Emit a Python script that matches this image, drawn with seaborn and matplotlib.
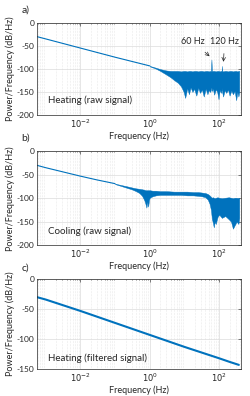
import numpy as np
import pandas as pd
import matplotlib
matplotlib.use("Agg")
import matplotlib.pyplot as plt
import seaborn as sns

# estilo general
sns.set_theme(style="whitegrid")
plt.rcParams['font.family'] = ['Lato', 'DejaVu Sans']
plt.rcParams['mathtext.fontset'] = 'dejavusans'

AZUL = '#0072BD'
GRIS = '#262626'

## ---------------------------
## datos
## ---------------------------

# a) calentamiento, senal cruda
heat_line_f = [5.6e-4, 1e-3, 1e-2, 1e-1, 1.0]
heat_line_db = [-29, -34, -54, -74, -93]

heat_band_f = [1.0, 1.5, 2.0, 3.0, 4.0, 5.0, 6.5, 8.0, 9.5, 10.5, 12, 13.5, 15, 17, 19,
               22, 25, 28, 32, 36, 41, 46, 50, 55, 58, 60, 62, 66, 72, 80, 88, 96,
               104, 112, 118, 120, 122, 130, 145, 160, 180, 200, 225, 250, 280, 310,
               335, 360, 380]
heat_band_hi = [-93, -97, -100, -103, -104, -104, -104, -105, -104, -104, -105, -104, -104,
                -105, -104, -104, -105, -104, -104, -105, -104, -104, -105, -104, -105,
                -79, -105, -104, -104, -105, -104, -104, -105, -104, -104, -93, -104,
                -105, -104, -104, -105, -104, -104, -105, -104, -104, -105, -104, -104]
heat_band_lo = [-94, -99, -104, -112, -118, -124, -130, -138, -150, -163, -142, -155, -140,
                -150, -143, -158, -141, -152, -145, -160, -143, -155, -146, -150, -145,
                -140, -148, -143, -156, -144, -150, -166, -145, -152, -146, -140, -150,
                -160, -146, -152, -145, -158, -147, -155, -148, -168, -150, -160, -150]

# b) enfriamiento, senal cruda
cool_line_f = [5.6e-4, 1e-3, 1e-2, 3e-2, 1e-1]
cool_line_db = [-30, -35, -53, -61, -69]

cool_band_f = [0.1, 0.15, 0.2, 0.3, 0.4, 0.5, 0.6, 0.7, 0.75, 0.8, 0.85, 0.9, 0.95, 1.0,
               1.2, 1.5, 2, 3, 5, 8, 12, 18, 25, 32, 40, 47, 53, 58, 62, 66, 70, 75, 80,
               90, 100, 120, 150, 190, 220, 250, 280, 320, 360, 380]
cool_band_hi = [-69, -72, -74, -77, -79, -80, -81, -82, -83, -83, -83, -83, -83, -83,
                -84, -84, -85, -85, -86, -86, -86, -87, -87, -88, -89, -91, -94, -97,
                -99, -98, -99, -100, -99, -98, -99, -100, -99, -98, -99, -100, -99, -99,
                -100, -99]
cool_band_lo = [-70, -74, -77, -81, -85, -89, -95, -105, -112, -120, -108, -118, -104, -99,
                -96, -94, -93, -93, -93, -93, -94, -94, -95, -96, -98, -103, -112, -125,
                -145, -152, -162, -150, -155, -140, -135, -142, -138, -145, -150, -165,
                -158, -150, -155, -142]

# c) calentamiento, senal filtrada
filt_f = [5.6e-4, 1e-3, 1e-2, 1e-1, 1.0, 10, 100, 200, 370]
filt_db = [-30, -34, -53, -73, -93, -113, -132, -138, -143]

YTICKS_AB = [-200, -150, -100, -50, 0]
YTICKS_C = [-150, -100, -50, 0]
XTICKS = [1e-2, 1e0, 1e2]
XTICK_LABELS = [r'$10^{-2}$', r'$10^{0}$', r'$10^{2}$']


def formato_eje(ax, yticks):
    ax.set_xscale('log')
    ax.set_xlim(5.6e-4, 420)
    ax.set_ylim(yticks[0], yticks[-1])
    ax.set_yticks(yticks)
    ax.set_yticklabels([str(v) for v in yticks])
    ax.set_xticks(XTICKS)
    ax.set_xticklabels(XTICK_LABELS)
    ax.xaxis.set_minor_locator(matplotlib.ticker.LogLocator(base=10, subs=np.arange(2, 10), numticks=20))
    ax.xaxis.set_minor_formatter(matplotlib.ticker.NullFormatter())
    ax.grid(which='major', color='#dcdcdc', linewidth=0.5, linestyle='-')
    ax.grid(which='minor', axis='x', color='#d8d8d8', linewidth=0.4, linestyle=':')
    ax.tick_params(which='both', direction='in', top=True, right=True, labelsize=6,
                   colors=GRIS, length=2, width=0.4, pad=2)
    ax.tick_params(which='minor', length=1)
    for s in ax.spines.values():
        s.set_color(GRIS)
        s.set_linewidth(0.5)
    ax.set_xlabel('Frequency (Hz)', fontsize=6.5, color=GRIS, labelpad=1)
    ax.set_ylabel('Power/Frequency (dB/Hz)', fontsize=6.5, color=GRIS, labelpad=1)


fig = plt.figure(figsize=(2.5, 3.96), dpi=100)
ax_a = fig.add_axes([0.148, 0.710, 0.815, 0.231])
ax_b = fig.add_axes([0.148, 0.381, 0.815, 0.237])
ax_c = fig.add_axes([0.148, 0.068, 0.815, 0.227])

# panel a
sns.lineplot(x=heat_line_f, y=heat_line_db, ax=ax_a, color=AZUL, linewidth=0.8)
ax_a.fill_between(heat_band_f, heat_band_lo, heat_band_hi, color=AZUL, linewidth=0.3)
formato_eje(ax_a, YTICKS_AB)
ax_a.text(1.2e-3, -168, 'Heating (raw signal)', fontsize=7, color=GRIS, va='center')
ax_a.annotate('60 Hz', xy=(53, -72), xytext=(18, -40), fontsize=6.5, color=GRIS,
              ha='center', va='center',
              arrowprops=dict(arrowstyle='->', color=GRIS, lw=0.5, shrinkA=3, shrinkB=0))
ax_a.annotate('120 Hz', xy=(133, -84), xytext=(144, -40), fontsize=6.5, color=GRIS,
              ha='center', va='center',
              arrowprops=dict(arrowstyle='->', color=GRIS, lw=0.5, shrinkA=3, shrinkB=0))

# panel b
sns.lineplot(x=cool_line_f, y=cool_line_db, ax=ax_b, color=AZUL, linewidth=0.8)
ax_b.fill_between(cool_band_f, cool_band_lo, cool_band_hi, color=AZUL, linewidth=0.3)
formato_eje(ax_b, YTICKS_AB)
ax_b.text(1.2e-3, -170, 'Cooling (raw signal)', fontsize=7, color=GRIS, va='center')

# panel c
sns.lineplot(x=filt_f, y=filt_db, ax=ax_c, color=AZUL, linewidth=1.5)
formato_eje(ax_c, YTICKS_C)
ax_c.text(1.2e-3, -132, 'Heating (filtered signal)', fontsize=7, color=GRIS, va='center')

for letra, y in [('a)', 0.975), ('b)', 0.652), ('c)', 0.322)]:
    fig.text(0.085, y, letra, fontsize=7.5, color=GRIS, va='center')

fig.savefig('out.png', dpi=100)
